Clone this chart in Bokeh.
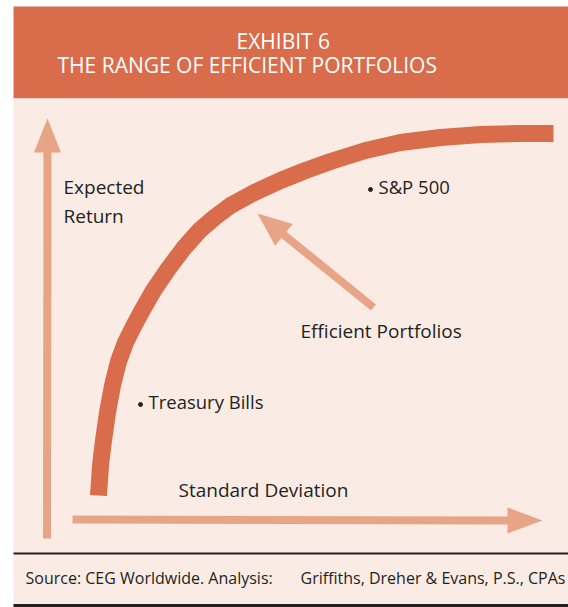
from bokeh.plotting import figure
from bokeh.models import Range1d
from bokeh.core.properties import value
from bokeh.embed import file_html
from bokeh.resources import INLINE

# ---------------- data (schematic units: risk on x, return on y) ----------------
frontier_risk = [10.6, 11.0, 11.6, 12.4, 13.4, 14.6, 16.0, 17.6, 19.2, 21.6, 24.6, 27.6,
                 30.8, 33.8, 37.0, 41.8, 47.0, 52.0, 57.0, 64.0, 71.0, 79.0, 87.0, 95.0, 101.6]
frontier_return = [4.8, 10.8, 15.8, 21.4, 26.8, 31.6, 35.4, 38.6, 41.6, 45.8, 50.2, 54.2,
                   57.8, 60.4, 62.8, 65.4, 67.8, 69.8, 71.6, 73.8, 75.4, 76.4, 77.0, 77.2, 77.2]

point_names = ["Treasury Bills", "S&P 500"]
point_risk = [19.0, 65.0]
point_return = [23.0, 66.0]

title_lines = ["EXHIBIT 6", "THE RANGE OF EFFICIENT PORTFOLIOS"]
x_label = "Standard Deviation"
y_label_lines = ["Expected", "Return"]
frontier_label = "Efficient Portfolios"
source_left = "Source: CEG Worldwide. Analysis:"
source_right = "Griffiths, Dreher & Evans, P.S., CPAs"

# ---------------- styling ----------------
HEADER = "#D96C4A"
CURVE = "#D96C4A"
ARROW = "#E8A486"
BG = "#FAECE5"
INK = "#231F20"
FONT = value("Open Sans")

W, H = 568, 607
# pixel -> data helpers for layout elements (5 px per unit)
def X(px):
    return px / 5.0 - 9.0

def Y(py):
    return 103.8 - py / 5.0

TB = 8  # baseline correction (px)

p = figure(width=W, height=H, x_range=Range1d(X(0), X(W)), y_range=Range1d(Y(H), Y(0)),
           output_backend="svg", toolbar_location=None, min_border=0,
           background_fill_color="white", border_fill_color="white")
p.axis.visible = False
p.grid.visible = False
p.outline_line_color = None

# panels
p.quad(left=[X(13)], right=[X(W)], top=[Y(6)], bottom=[Y(98)], fill_color=HEADER, line_color=None)
p.quad(left=[X(13)], right=[X(W)], top=[Y(98)], bottom=[Y(H)], fill_color=BG, line_color=None)
p.segment(x0=[X(13)], y0=[Y(553)], x1=[X(W)], y1=[Y(553)], line_color=INK, line_width=2.2)
p.quad(left=[X(13)], right=[X(W)], top=[Y(603.5)], bottom=[Y(H)], fill_color=INK, line_color=None)

# arrows
def arrow(x0, y0, x1, y1, shaft_px, head_len, head_w):
    dx, dy = x1 - x0, y1 - y0
    L = (dx * dx + dy * dy) ** 0.5
    ux, uy = dx / L, dy / L
    bx, by = x1 - ux * head_len, y1 - uy * head_len
    p.line([x0, bx + ux * 0.5], [y0, by + uy * 0.5], line_color=ARROW, line_width=shaft_px, line_cap="butt")
    nx, ny = -uy, ux
    p.patch([x1, bx + nx * head_w / 2, bx - nx * head_w / 2],
            [y1, by + ny * head_w / 2, by - ny * head_w / 2],
            fill_color=ARROW, line_color=None)

arrow(X(46.5), Y(538), X(47), Y(118), 8, 6.8, 5.4)          # return axis
arrow(X(72), Y(519), X(542), Y(520), 8, 7.0, 5.2)           # risk axis
arrow(X(373), Y(307), X(257), Y(213), 8, 6.8, 5.6)          # efficient portfolios pointer

# efficient frontier
p.line(frontier_risk, frontier_return, line_color=CURVE, line_width=17,
       line_cap="butt", line_join="round")

# portfolios
p.scatter(point_risk, point_return, size=4, color=INK, marker="circle")
p.text(point_risk, point_return, text=point_names, x_offset=8, y_offset=5 - TB,
       text_font=FONT, text_font_size="18.5px", text_color=INK,
       text_baseline="alphabetic", text_align="left")

# labels
def label(px, py, txt, size, color=INK):
    p.text([X(px)], [Y(py - TB)], text=[txt], text_font=FONT, text_font_size=size,
           text_color=color, text_baseline="alphabetic", text_align="left")

label(236, 48, title_lines[0], "21px", "white")
label(57, 72, title_lines[1], "21px", "white")
label(63, 194, y_label_lines[0], "19px")
label(63, 223, y_label_lines[1], "19px")
label(178, 497, x_label, "19px")
label(300, 338, frontier_label, "19px")
label(25, 585, source_left, "16px")
label(300, 585, source_right, "16px")

open("out.html", "w").write(file_html(p, INLINE))
